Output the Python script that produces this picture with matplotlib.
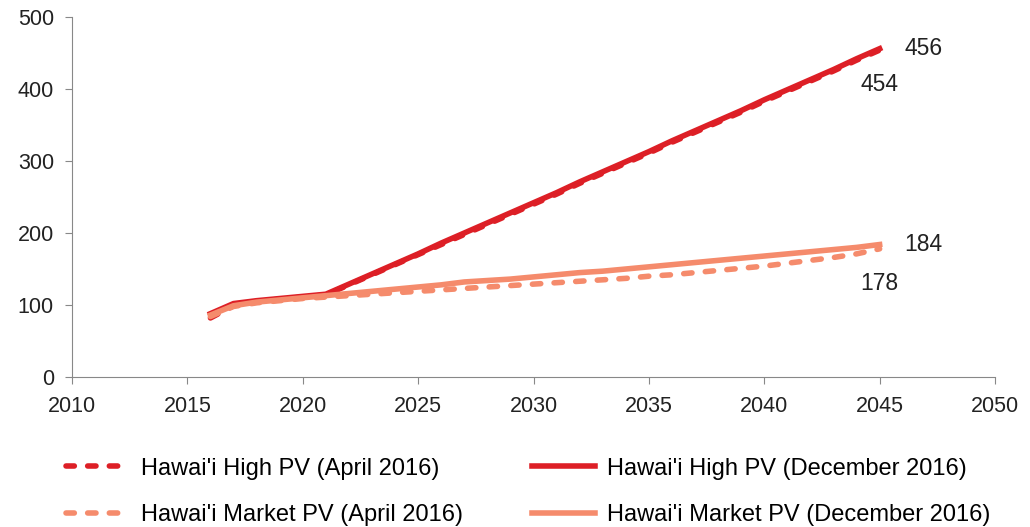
import numpy as np
import matplotlib.pyplot as plt

years = list(range(2016, 2046))

high_dec = [88, 102, 106, 109, 112, 115, 129, 143, 157, 171, 186, 200, 214, 228, 242,
            256, 271, 285, 299, 313, 328, 342, 356, 370, 385, 399, 413, 427, 442, 456]
high_apr = [82, 99, 105, 108, 111, 114, 128, 142, 156, 170, 184, 198, 212, 226, 240,
            254, 269, 283, 297, 311, 326, 340, 354, 368, 383, 397, 411, 425, 440, 454]
market_dec = [86, 99, 104, 107, 110, 113, 116, 119, 122, 125, 128, 132, 134, 136, 139,
              142, 145, 147, 150, 153, 156, 159, 162, 165, 168, 171, 174, 177, 180, 184]
market_apr = [84, 98, 103, 106, 109, 111, 113, 115, 117, 119, 121, 123, 125, 127, 129,
              131, 133, 135, 137, 140, 142, 145, 148, 151, 154, 158, 162, 166, 171, 178]

RED = '#DD1F26'
SALMON = '#F58B6C'

plt.rcParams['font.family'] = ['Liberation Sans', 'DejaVu Sans']

fig = plt.figure(figsize=(10.3, 5.27), dpi=100)
ax = fig.add_axes([72/1030, 1-377/527, 923/1030, 360/527])

dash = (0, (1.5, 2.4))
l1, = ax.plot(years, high_apr, color=RED, lw=4, ls=dash, dash_capstyle='round',
              label="Hawai'i High PV (April 2016)")
l3, = ax.plot(years, market_apr, color=SALMON, lw=4, ls=dash, dash_capstyle='round',
              label="Hawai'i Market PV (April 2016)")
l2, = ax.plot(years, high_dec, color=RED, lw=4, label="Hawai'i High PV (December 2016)")
l4, = ax.plot(years, market_dec, color=SALMON, lw=4, label="Hawai'i Market PV (December 2016)")

ax.set_xlim(2010, 2050)
ax.set_ylim(0, 500)
ax.set_xticks(range(2010, 2051, 5))
ax.set_yticks(range(0, 501, 100))
ax.tick_params(labelsize=15.5, colors='#222222', length=5, color='#888888')
ax.tick_params(axis='x', pad=9)
ax.tick_params(axis='y', pad=8)
for s in ['top', 'right']:
    ax.spines[s].set_visible(False)
for s in ['left', 'bottom']:
    ax.spines[s].set_color('#888888')

fs = 16.5
ax.annotate(str(high_dec[-1]), (years[-1], high_dec[-1]), xytext=(18, 0), textcoords='offset points',
            fontsize=fs, va='center', color='#222222')
ax.annotate(str(high_apr[-1]), (years[-1], high_apr[-1]), xytext=(0, -25), textcoords='offset points',
            fontsize=fs, va='center', ha='center', color='#222222')
ax.annotate(str(market_dec[-1]), (years[-1], market_dec[-1]), xytext=(18, 0), textcoords='offset points',
            fontsize=fs, va='center', color='#222222')
ax.annotate(str(market_apr[-1]), (years[-1], market_apr[-1]), xytext=(0, -25), textcoords='offset points',
            fontsize=fs, va='center', ha='center', color='#222222')

fig.legend(handles=[l1, l3, l2, l4], ncol=2, loc='upper left', bbox_to_anchor=(0.043, 0.172),
           frameon=False, fontsize=17, handlelength=2.7, columnspacing=2.9, labelspacing=1.05,
           handletextpad=0.5)

plt.savefig('out.png', dpi=100)
